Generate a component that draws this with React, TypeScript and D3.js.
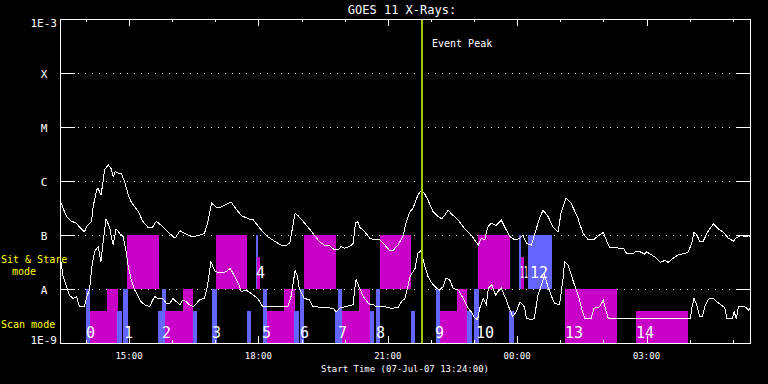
import * as d3 from "d3";

const W = 768;
const H = 384;
const START = new Date(Date.UTC(2007, 6, 7, 13, 24));
const END = new Date(Date.UTC(2007, 6, 8, 5, 24));
const EVENT_PEAK = "21:48";

// GOES classes on the flux axis
const Y_TICKS: [number, string][] = [
  [1e-3, "1E-3"], [1e-4, "X"], [1e-5, "M"], [1e-6, "C"], [1e-7, "B"], [1e-8, "A"], [1e-9, "1E-9"],
];
const GRID_LEVELS = [1e-4, 1e-5, 1e-6, 1e-7, 1e-8];

// [minutes after start, flux W/m^2]
const LONG_CHANNEL: [number, number][] = [
  [1, 4.1e-7], [4, 3.2e-7], [9, 2.2e-7], [16, 1.8e-7], [23, 1.65e-7], [27, 1.4e-7], [34, 1.15e-7],
  [38, 1.5e-7], [44, 1.8e-7], [46, 3.3e-7], [51, 6.8e-7], [53, 7.3e-7], [57, 5.5e-7], [60, 9.7e-7],
  [62, 1.6e-6], [67, 2.0e-6], [71, 1.7e-6], [74, 1.2e-6], [77, 1.5e-6], [81, 1.4e-6], [85, 1.4e-6],
  [90, 9.7e-7], [95, 5.5e-7], [99, 4.1e-7], [109, 2.7e-7], [115, 1.8e-7], [122, 1.4e-7], [129, 1.4e-7],
  [134, 1.8e-7], [141, 1.5e-7], [150, 1.15e-7], [160, 8.7e-8], [167, 1.2e-7], [173, 1.07e-7],
  [183, 9.3e-8], [192, 9.7e-8], [201, 1.07e-7], [206, 1.8e-7], [211, 3.9e-7], [217, 3.3e-7],
  [224, 3.3e-7], [238, 4.1e-7], [243, 3.3e-7], [250, 2.5e-7], [252, 2.3e-7], [262, 2.0e-7],
  [269, 1.9e-7], [275, 1.5e-7], [282, 1.15e-7], [289, 9.3e-8], [296, 8.1e-8], [301, 7.3e-8],
  [308, 6.5e-8], [315, 6.3e-8], [320, 7.3e-8], [324, 1.5e-7], [327, 2.5e-7], [331, 2.3e-7],
  [338, 1.8e-7], [345, 1.4e-7], [352, 1.07e-7], [361, 7.5e-8], [368, 6.5e-8], [375, 6.3e-8],
  [382, 5.3e-8], [387, 5.3e-8], [391, 6.1e-8], [396, 5.7e-8], [403, 6.1e-8], [408, 7.0e-8],
  [411, 1.65e-7], [414, 1.8e-7], [417, 1.4e-7], [424, 1.15e-7], [431, 8.7e-8], [438, 8.1e-8],
  [445, 8.1e-8], [452, 6.5e-8], [459, 5.1e-8], [463, 5.1e-8], [470, 6.5e-8], [477, 9.3e-8],
  [482, 1.8e-7], [487, 2.7e-7], [491, 3.1e-7], [498, 5.5e-7], [501, 6.3e-7], [503, 6.8e-7],
  [507, 5.9e-7], [512, 4.4e-7], [519, 2.7e-7], [526, 2.2e-7], [531, 2.0e-7], [535, 2.3e-7],
  [540, 2.9e-7], [544, 2.5e-7], [554, 1.9e-7], [563, 1.3e-7], [572, 1.0e-7], [582, 6.5e-8],
  [586, 8.7e-8], [591, 8.1e-8], [595, 1.4e-7], [600, 1.65e-7], [607, 1.5e-7], [614, 1.9e-7],
  [620, 1.3e-7], [626, 9.3e-8], [633, 8.1e-8], [640, 8.7e-8], [644, 1.0e-7], [649, 7.0e-8],
  [656, 6.5e-8], [660, 1.0e-7], [667, 2.0e-7], [672, 2.9e-7], [679, 2.2e-7], [686, 1.4e-7],
  [693, 1.15e-7], [697, 2.5e-7], [704, 4.8e-7], [711, 3.9e-7], [721, 2.0e-7], [723, 1.6e-7],
  [728, 1.07e-7], [735, 8.1e-8], [742, 8.1e-8], [749, 9.7e-8], [756, 1.12e-7], [761, 7.5e-8],
  [765, 5.8e-8], [784, 5.7e-8], [788, 4.6e-8], [798, 4.6e-8], [800, 4.9e-8], [807, 4.9e-8],
  [814, 4.4e-8], [816, 4.9e-8], [823, 4.3e-8], [830, 3.7e-8], [835, 3.1e-8], [842, 3.4e-8],
  [846, 3.1e-8], [853, 3.7e-8], [860, 4.3e-8], [870, 4.6e-8], [874, 4.9e-8], [879, 7.0e-8],
  [882, 1.12e-7], [886, 1.0e-7], [890, 7.7e-8], [895, 7.7e-8], [900, 1.07e-7], [904, 1.3e-7],
  [909, 1.6e-7], [916, 1.3e-7], [923, 1.12e-7], [930, 8.7e-8], [937, 7.7e-8], [941, 8.9e-8],
  [948, 1.0e-7], [953, 9.3e-8], [958, 9.7e-8], [960, 9.3e-8],
];

const SHORT_CHANNEL: [number, number][] = [
  [1, 3.4e-8], [4, 1.8e-8], [9, 1.1e-8], [13, 7.7e-9], [18, 6.7e-9], [23, 7.2e-9], [27, 4.7e-9],
  [34, 4.7e-9], [38, 7.7e-9], [41, 9.6e-9], [44, 2.4e-8], [48, 4.9e-8], [53, 6.1e-8], [57, 3.2e-8],
  [60, 7.5e-8], [64, 2.0e-7], [69, 1.4e-7], [71, 1.0e-7], [74, 6.5e-8], [78, 1.3e-7], [83, 1.07e-7],
  [88, 9.3e-8], [92, 4.9e-8], [95, 2.6e-8], [99, 1.5e-8], [104, 9.6e-9], [109, 7.2e-9], [113, 5.8e-9],
  [118, 5.1e-9], [125, 4.7e-9], [129, 6.3e-9], [132, 7.2e-9], [136, 6.7e-9], [143, 6.7e-9],
  [148, 5.4e-9], [153, 5.4e-9], [157, 6.7e-9], [162, 5.8e-9], [167, 5.1e-9], [171, 6.3e-9],
  [176, 5.8e-9], [180, 5.1e-9], [185, 4.7e-9], [190, 5.4e-9], [194, 6.3e-9], [201, 6.7e-9],
  [205, 1.1e-8], [210, 3.2e-8], [215, 2.2e-8], [220, 2.0e-8], [227, 2.0e-8], [231, 2.1e-8],
  [237, 2.4e-8], [243, 1.7e-8], [250, 1.1e-8], [252, 8.9e-9], [259, 9.6e-9], [269, 7.7e-9],
  [275, 6.7e-9], [282, 4.7e-9], [317, 4.7e-9], [322, 7.7e-9], [327, 2.2e-8], [330, 1.8e-8],
  [333, 1.0e-8], [340, 6.7e-9], [347, 6.3e-9], [352, 4.7e-9], [364, 4.6e-9], [380, 4.4e-9],
  [384, 3.8e-9], [389, 4.4e-9], [396, 4.7e-9], [408, 5.1e-9], [410, 1.0e-8], [412, 1.5e-8],
  [416, 1.1e-8], [422, 7.2e-9], [429, 5.4e-9], [433, 5.1e-9], [435, 5.2e-9], [440, 4.7e-9],
  [452, 4.7e-9], [461, 4.4e-9], [470, 4.5e-9], [475, 5.8e-9], [480, 6.7e-9], [484, 1.1e-8],
  [487, 1.7e-8], [494, 2.4e-8], [498, 4.6e-8], [502, 5.1e-8], [507, 2.8e-8], [512, 1.7e-8],
  [517, 1.3e-8], [524, 1.03e-8], [528, 9.6e-9], [533, 1.1e-8], [537, 1.6e-8], [542, 1.5e-8],
  [547, 1.03e-8], [554, 9.6e-9], [561, 6.7e-9], [568, 4.4e-9], [572, 3.8e-9], [577, 2.9e-9],
  [581, 2.7e-9], [584, 4.4e-9], [589, 6.7e-9], [593, 5.1e-9], [596, 1.03e-8], [601, 1.2e-8],
  [606, 7.7e-9], [609, 8.9e-9], [614, 1.03e-8], [620, 6.7e-9], [626, 4.1e-9], [630, 3.1e-9],
  [635, 3.8e-9], [640, 5.8e-9], [646, 4.7e-9], [649, 2.9e-9], [656, 2.7e-9], [660, 2.9e-9],
  [665, 7.7e-9], [670, 1.2e-8], [674, 1.8e-8], [679, 1.1e-8], [684, 7.2e-9], [688, 5.4e-9],
  [695, 5.1e-9], [700, 1.6e-8], [702, 3.2e-8], [707, 2.8e-8], [714, 1.4e-8], [721, 7.7e-9],
  [725, 4.7e-9], [730, 2.9e-9], [739, 2.9e-9], [743, 4.4e-9], [751, 4.7e-9], [756, 6.3e-9],
  [758, 4.7e-9], [763, 2.8e-9], [877, 2.8e-9], [879, 4.4e-9], [882, 6.7e-9], [886, 5.1e-9],
  [890, 3.1e-9], [894, 3.1e-9], [897, 4.7e-9], [902, 6.5e-9], [909, 6.7e-9], [914, 5.8e-9],
  [925, 4.5e-9], [928, 2.8e-9], [935, 2.8e-9], [938, 3.8e-9], [941, 2.8e-9], [944, 4.7e-9],
  [953, 4.7e-9], [958, 4.1e-9], [960, 4.4e-9],
];

type Kind = "m" | "b";
type Level = "full" | "part";

// scan mode observations: [start, end, kind, level]
const SCAN_BARS: [string, string, Kind, Level][] = [
  ["14:00", "14:06", "b", "full"], ["14:06", "14:43", "m", "part"], ["14:29", "14:45", "m", "full"],
  ["14:43", "14:50", "b", "part"], ["14:52", "14:59", "b", "full"], ["15:40", "15:50", "b", "part"],
  ["15:46", "15:51", "b", "full"], ["15:50", "16:29", "m", "part"], ["16:15", "16:29", "m", "full"],
  ["16:29", "16:35", "b", "part"], ["16:55", "17:02", "b", "full"], ["17:44", "17:50", "b", "part"],
  ["18:06", "18:12", "b", "full"], ["18:12", "18:50", "m", "part"], ["18:36", "18:51", "m", "full"],
  ["18:50", "18:56", "b", "part"], ["18:58", "19:03", "b", "full"], ["19:47", "19:56", "b", "part"],
  ["19:51", "19:56", "b", "full"], ["19:56", "20:35", "m", "part"], ["20:20", "20:35", "m", "full"],
  ["20:35", "20:41", "b", "part"], ["20:44", "20:49", "b", "full"], ["21:32", "21:38", "b", "part"],
  ["22:07", "22:13", "b", "full"], ["22:13", "22:50", "m", "part"], ["22:36", "22:50", "m", "full"],
  ["22:50", "22:57", "b", "part"], ["23:00", "23:07", "b", "full"], ["23:49", "23:56", "b", "part"],
  ["01:07", "02:19", "m", "full"], ["02:45", "03:58", "m", "part"],
];

// sit & stare observations
const STARE_BARS: [string, string, Kind, Level][] = [
  ["14:57", "15:42", "m", "full"], ["17:01", "17:44", "m", "full"], ["17:57", "18:00", "b", "full"],
  ["17:58", "18:02", "m", "part"], ["19:03", "19:48", "m", "full"], ["20:49", "21:32", "m", "full"],
  ["23:06", "23:50", "m", "full"], ["00:03", "00:05", "b", "full"], ["00:05", "00:10", "m", "part"],
  ["00:15", "00:48", "b", "full"],
];

const OBS_LABELS: [string, string, "scan" | "stare"][] = [
  ["0", "14:00", "scan"], ["1", "14:53", "scan"], ["2", "15:46", "scan"], ["3", "16:55", "scan"],
  ["4", "17:57", "stare"], ["5", "18:05", "scan"], ["6", "18:58", "scan"], ["7", "19:51", "scan"],
  ["8", "20:44", "scan"], ["9", "22:06", "scan"], ["10", "23:03", "scan"], ["11", "00:04", "stare"],
  ["12", "00:18", "stare"], ["13", "01:06", "scan"], ["14", "02:45", "scan"],
];

const KIND_COLOR: Record<Kind, string> = { m: "#c800c8", b: "#6464ff" };
const MONO = "DejaVu Sans Mono, monospace";
const DIGIT_W = 9; // advance of a 15px mono digit

const at = (hm: string) => {
  const [h, m] = hm.split(":").map(Number);
  return new Date(Date.UTC(2007, 6, h < 12 ? 8 : 7, h, m));
};
const fromStart = (min: number) => new Date(START.getTime() + min * 60000);

export default function App() {
  const x = d3.scaleUtc().domain([START, END]).range([60, 750]);
  const y = d3.scaleLog().domain([1e-9, 1e-3]).range([343, 19]);
  const [x0, x1] = x.range();
  const [yb, yt] = y.range();

  // bands: bottom / top / partial top (flux)
  const bands = {
    scan: { lo: 1e-9, hi: 1e-8, part: Math.pow(10, -8.4) },
    stare: { lo: 1e-8, hi: 1e-7, part: Math.pow(10, -7.4) },
  };

  const line = d3.line<[number, number]>()
    .x(d => x(fromStart(d[0])))
    .y(d => y(d[1]));

  const bars = [
    ...SCAN_BARS.map(b => ({ b, band: bands.scan })),
    ...STARE_BARS.map(b => ({ b, band: bands.stare })),
  ];

  // observation numbers; squeeze a number horizontally if the next one in its band starts too close
  const labels = OBS_LABELS.map(([t, hm, band], i) => {
    const lx = Math.round(x(at(hm)));
    const next = OBS_LABELS.slice(i + 1).find(o => o[2] === band);
    const room = next ? Math.round(x(at(next[1]))) - lx - 2 : Infinity;
    const natural = t.length * DIGIT_W;
    const ly = band === "scan" ? y(bands.scan.lo) - 5 : y(bands.stare.lo) - 11;
    return { t, lx, ly, sx: natural > room ? room / natural : 1 };
  });

  const hours = x.ticks(d3.utcHour.every(1)!);
  const fmt = d3.utcFormat("%H:%M");
  const ex = Math.round(x(at(EVENT_PEAK)));

  return (
    <svg width={W} height={H} style={{ position: "absolute", left: 0, top: 0, background: "#000" }}>
      <rect width={W} height={H} fill="#000" />

      {/* dotted class levels */}
      {GRID_LEVELS.map(v => (
        <line key={v} x1={x0 + 18} x2={x1 - 14} y1={Math.round(y(v)) + 0.5} y2={Math.round(y(v)) + 0.5}
          stroke="#fff" strokeDasharray="1 6" shapeRendering="crispEdges" />
      ))}

      {/* observation bars */}
      {bars.map(({ b: [s, e, k, lvl], band }, i) => {
        const top = Math.round(y(lvl === "full" ? band.hi : band.part));
        const bot = Math.round(y(band.lo));
        const xs = Math.round(x(at(s)));
        const xe = Math.round(x(at(e)));
        return <rect key={i} x={xs} y={top} width={Math.max(1, xe - xs)} height={bot - top}
          fill={KIND_COLOR[k]} shapeRendering="crispEdges" />;
      })}

      {/* GOES curves */}
      <path d={line(LONG_CHANNEL) ?? ""} fill="none" stroke="#fff" strokeWidth={1} shapeRendering="crispEdges" />
      <path d={line(SHORT_CHANNEL) ?? ""} fill="none" stroke="#fff" strokeWidth={1} shapeRendering="crispEdges" />

      {/* event peak marker */}
      <rect x={ex - 1} y={yt} width={2} height={yb - yt} fill="#a0c800" shapeRendering="crispEdges" />
      <text x={ex + 10} y={47} fill="#fff" fontFamily={MONO} fontSize={10}>Event Peak</text>

      {/* observation numbers */}
      {labels.map(({ t, lx, ly, sx }) => (
        <text key={t} transform={`translate(${lx},${ly}) scale(${sx},1)`}
          fill="#fff" fontFamily={MONO} fontSize={15}>{t}</text>
      ))}

      {/* frame */}
      <rect x={x0 + 0.5} y={yt + 0.5} width={x1 - x0} height={yb - yt} fill="none" stroke="#fff"
        shapeRendering="crispEdges" />

      {/* y ticks both sides */}
      {GRID_LEVELS.map(v => {
        const yy = Math.round(y(v)) + 0.5;
        return (
          <g key={v}>
            <line x1={x0} x2={x0 + 15} y1={yy} y2={yy} stroke="#fff" shapeRendering="crispEdges" />
            <line x1={x1 - 14} x2={x1} y1={yy} y2={yy} stroke="#fff" shapeRendering="crispEdges" />
          </g>
        );
      })}

      {/* hour ticks top and bottom */}
      {hours.map(h => {
        const xx = Math.round(x(h)) + 0.5;
        const len = h.getUTCHours() % 3 === 0 ? 7 : 3;
        return (
          <g key={+h}>
            <line x1={xx} x2={xx} y1={yt} y2={yt + len} stroke="#fff" shapeRendering="crispEdges" />
            <line x1={xx} x2={xx} y1={yb} y2={yb - len} stroke="#fff" shapeRendering="crispEdges" />
          </g>
        );
      })}

      {/* y labels */}
      {Y_TICKS.map(([v, t]) => {
        const yy = y(v);
        const edge = v === 1e-3 || v === 1e-9;
        return (
          <text key={t} x={edge ? 57 : 44} y={v === 1e-3 ? yy + 8 : v === 1e-9 ? yy + 1 : yy + 5}
            textAnchor={edge ? "end" : "middle"} fill="#fff" fontFamily={MONO} fontSize={11}>{t}</text>
        );
      })}

      {/* mode labels */}
      <text x={1} y={263} fill="#ffff00" fontFamily={MONO} fontSize={10}>Sit &amp; Stare</text>
      <text x={24} y={274.5} textAnchor="middle" fill="#ffff00" fontFamily={MONO} fontSize={10}>mode</text>
      <text x={1} y={328} fill="#ffff00" fontFamily={MONO} fontSize={10}>Scan mode</text>

      {/* x labels */}
      {hours.filter(h => h.getUTCHours() % 3 === 0).map(h => (
        <text key={+h} x={x(h)} y={359} textAnchor="middle" fill="#fff" fontFamily={MONO} fontSize={9}>{fmt(h)}</text>
      ))}
      <text x={405} y={372} textAnchor="middle" fill="#fff" fontFamily={MONO} fontSize={9}>
        Start Time (07-Jul-07 13:24:00)
      </text>

      <text x={402} y={14} textAnchor="middle" fill="#fff" fontFamily={MONO} fontSize={12}>GOES 11 X-Rays:</text>
    </svg>
  );
}
